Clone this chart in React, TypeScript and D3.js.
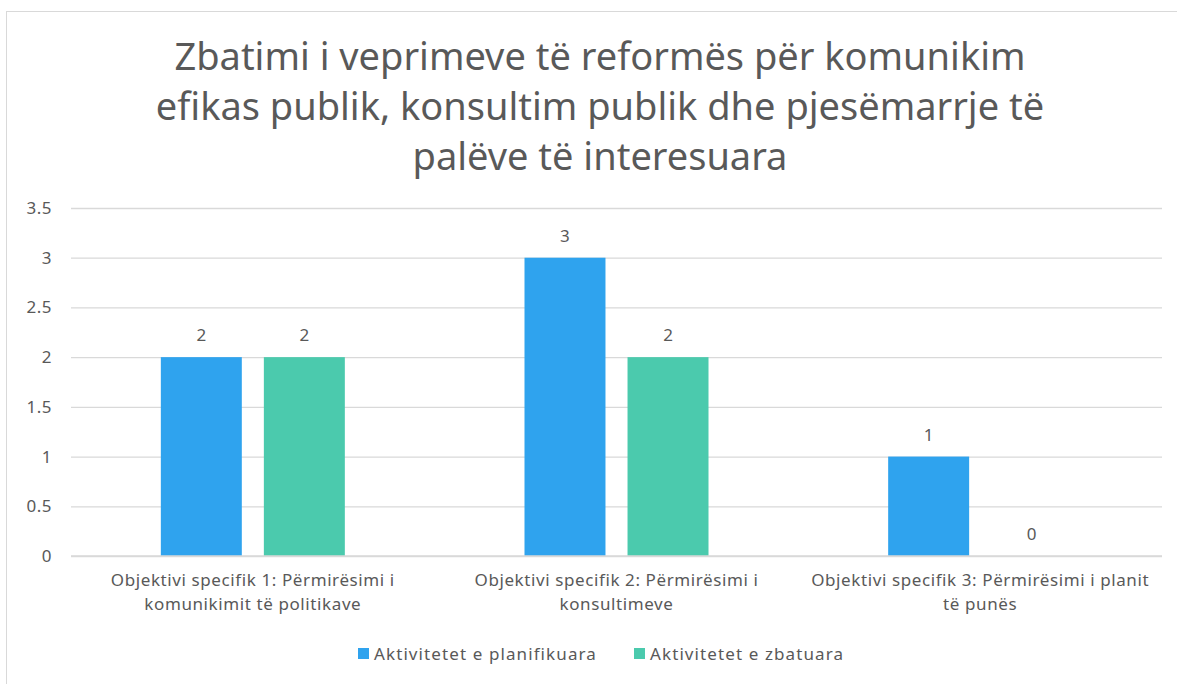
import React from "react";
import * as d3 from "d3";

const categories = [
  ["Objektivi specifik 1: Përmirësimi i", "komunikimit të politikave"],
  ["Objektivi specifik 2: Përmirësimi i", "konsultimeve"],
  ["Objektivi specifik 3: Përmirësimi i planit", "të punës"],
];
const seriesNames = ["Aktivitetet e planifikuara", "Aktivitetet e zbatuara"];
const planned = [2, 3, 1];
const implemented = [2, 2, 0];
const yTicks = [0, 0.5, 1, 1.5, 2, 2.5, 3, 3.5];
const titleLines = [
  "Zbatimi i veprimeve të reformës për komunikim",
  "efikas publik, konsultim publik dhe pjesëmarrje të",
  "palëve të interesuara",
];

const colors = ["#2fa3ee", "#4bcaad"];
const textColor = "#595959";
const font = "'Noto Sans', sans-serif";

const App = () => {
  const svgRef = React.useRef(null);
  const width = 1177;
  const height = 684;
  const margin = { left: 71, right: 15, top: 208, bottom: 128 };

  React.useEffect(() => {
    const svgEl = d3.select(svgRef.current);
    svgEl.selectAll("*").remove();

    // outer frame
    svgEl.append("rect")
      .attr("x", 6.5).attr("y", 11.5)
      .attr("width", width + 20).attr("height", height + 20)
      .attr("fill", "white").attr("stroke", "#d9d9d9");

    // title
    svgEl.append("g").selectAll("text")
      .data(titleLines)
      .enter()
      .append("text")
      .attr("x", 600)
      .attr("y", (d, i) => 70 + i * 50)
      .attr("text-anchor", "middle")
      .attr("font-family", font)
      .attr("font-size", 38)
      .attr("fill", textColor)
      .text((d) => d);

    const innerW = width - margin.left - margin.right;
    const innerH = height - margin.top - margin.bottom;
    const svg = svgEl.append("g")
      .attr("transform", `translate(${margin.left},${margin.top})`);

    const x0 = d3.scaleBand().domain(d3.range(categories.length)).range([0, innerW]);
    const x1 = d3.scaleBand().domain(d3.range(2)).range([0, 184]).paddingInner(0.214);
    const yScale = d3.scaleLinear().domain([0, 3.5]).range([innerH, 0]);

    // Y grid and labels
    const yAxis = d3.axisLeft(yScale).tickValues(yTicks).tickSize(-innerW).tickPadding(19)
      .tickFormat((v) => `${v}`);
    const yAxisGroup = svg.append("g").call(yAxis);
    yAxisGroup.select(".domain").remove();
    yAxisGroup.selectAll("line").attr("stroke", "#d9d9d9").attr("stroke-width", 1.3);
    yAxisGroup.selectAll("text")
      .attr("fill", textColor)
      .attr("font-family", font)
      .attr("font-size", 17)
      .attr("letter-spacing", 0.5);

    // bars
    const series = [planned, implemented];
    series.forEach((vals, s) => {
      const g = svg.append("g");
      g.selectAll("rect")
        .data(vals)
        .enter()
        .append("rect")
        .attr("x", (d, i) => x0(i) + x0.bandwidth() / 2 - 92 + x1(s))
        .attr("y", (d) => yScale(d))
        .attr("width", x1.bandwidth())
        .attr("height", (d) => innerH - yScale(d))
        .attr("fill", colors[s]);
      g.selectAll("text")
        .data(vals)
        .enter()
        .append("text")
        .attr("x", (d, i) => x0(i) + x0.bandwidth() / 2 - 92 + x1(s) + x1.bandwidth() / 2)
        .attr("y", (d) => yScale(d) - 16)
        .attr("text-anchor", "middle")
        .attr("font-family", font)
        .attr("font-size", 17)
        .attr("fill", textColor)
        .text((d) => d);
    });

    // baseline
    svg.append("line")
      .attr("x1", 0).attr("x2", innerW)
      .attr("y1", innerH).attr("y2", innerH)
      .attr("stroke", "#d9d9d9").attr("stroke-width", 1.5);

    // category labels
    const cat = svg.append("g").selectAll("text")
      .data(categories)
      .enter()
      .append("text")
      .attr("text-anchor", "middle")
      .attr("font-family", font)
      .attr("font-size", 17)
      .attr("letter-spacing", 0.6)
      .attr("fill", textColor);
    cat.selectAll("tspan")
      .data((d, i) => d.map((line) => ({ line, i })))
      .enter()
      .append("tspan")
      .attr("x", (d) => x0(d.i) + x0.bandwidth() / 2)
      .attr("y", (d, j) => innerH + 30 + j * 24)
      .text((d) => d.line);

    // legend
    const legendX = [358, 634];
    const legend = svgEl.append("g").selectAll("g")
      .data(seriesNames)
      .enter()
      .append("g")
      .attr("transform", (d, i) => `translate(${legendX[i]},648)`);
    legend.append("rect")
      .attr("width", 11).attr("height", 11)
      .attr("fill", (d, i) => colors[i]);
    legend.append("text")
      .attr("x", 16).attr("y", 11.5)
      .attr("font-family", font)
      .attr("font-size", 17)
      .attr("letter-spacing", 1.1)
      .attr("fill", textColor)
      .text((d) => d);
  }, []);

  return (
    <svg
      ref={svgRef}
      width={width}
      height={height}
      style={{ position: "absolute", left: 0, top: 0 }}
    />
  );
};

export default App;
